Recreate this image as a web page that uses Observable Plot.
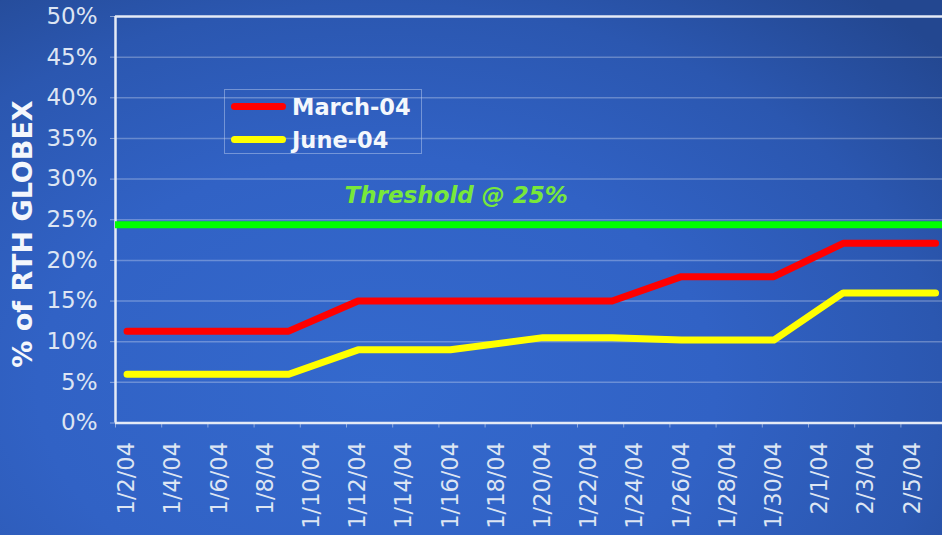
<!DOCTYPE html>
<html>
<head>
<meta charset="utf-8">
<script src="https://cdn.jsdelivr.net/npm/d3@7"></script>
<script src="https://cdn.jsdelivr.net/npm/@observablehq/plot@0.6"></script>
<style>
  html, body { margin: 0; padding: 0; }
  body {
    width: 942px; height: 535px; overflow: hidden; position: relative;
    background: radial-gradient(ellipse 80% 95% at 40% 72%, #3469cd 0%, #3162c5 45%, #2b57b0 75%, #234790 100%);
    font-family: "DejaVu Sans", Verdana, sans-serif;
  }
  #chart { position: absolute; left: 0; top: 0; }
  #ytitle {
    position: absolute; left: 22px; top: 234px;
    transform: translate(-50%, -50%) rotate(-90deg);
    white-space: nowrap; color: #f4f7fc; font-weight: bold; font-size: 27px;
  }
  #legend {
    position: absolute; left: 224px; top: 89px; width: 198px; height: 65px;
    border: 1px solid rgba(200, 215, 245, 0.45); box-sizing: border-box;
  }
  .row { display: flex; align-items: center; height: 33px; padding-left: 6px; }
  .sw { width: 55px; height: 7px; border-radius: 4px; margin-right: 6px; }
  .lb { color: #f4f7fc; font-weight: bold; font-size: 22.5px; }
</style>
</head>
<body>
<div id="chart"></div>
<div id="ytitle">% of RTH GLOBEX</div>
<div id="legend"></div>
<script>
// ---- data ----
const dates = ["1/2/04","1/5/04","1/6/04","1/7/04","1/8/04","1/9/04",
  "1/12/04","1/13/04","1/14/04","1/15/04","1/16/04",
  "1/20/04","1/21/04","1/22/04","1/23/04",
  "1/26/04","1/27/04","1/28/04","1/29/04","1/30/04",
  "2/2/04","2/3/04","2/4/04","2/5/04","2/6/04"];
const march04 = [11.3,11.3,11.3,11.3,11.3,11.3,
  15.0,15.0,15.0,15.0,15.0,
  15.0,15.0,15.0,15.0,
  18.0,18.0,18.0,18.0,18.0,
  22.1,22.1,22.1,22.1,22.1];
const june04 = [6.0,6.0,6.0,6.0,6.0,6.0,
  9.0,9.0,9.0,9.0,9.0,
  10.5,10.5,10.5,10.5,
  10.2,10.2,10.2,10.2,10.2,
  16.0,16.0,16.0,16.0,16.0];
const seriesNames = ["March-04", "June-04"];
const seriesColors = ["#ff0000", "#ffff00"];
const threshold = 24.4;
const thresholdLabel = "Threshold @ 25%";
const thresholdLabelAt = "1/16/04";
const xTickLabels = ["1/2/04","1/4/04","1/6/04","1/8/04","1/10/04","1/12/04","1/14/04","1/16/04","1/18/04",
  "1/20/04","1/22/04","1/24/04","1/26/04","1/28/04","1/30/04","2/1/04","2/3/04","2/5/04"];
const xDomain = ["1/2/04", "2/7/04"];
const yTicks = [0,5,10,15,20,25,30,35,40,45,50];

// ---- helpers ----
function parse(s, hour) {
  const [m, d, y] = s.split("/").map(Number);
  return new Date(Date.UTC(2000 + y, m - 1, d, hour));
}
const rows = [];
dates.forEach((d, i) => {
  rows.push({date: parse(d, 12), value: march04[i], series: seriesNames[0]});
});
dates.forEach((d, i) => {
  rows.push({date: parse(d, 12), value: june04[i], series: seriesNames[1]});
});
const labelRows = xTickLabels.map(s => ({date: parse(s, 12), text: s}));
const tickBounds = xTickLabels.map(s => parse(s, 0));
const lblTime = parse(thresholdLabelAt, 18);

const textColor = "#dde5f3";
const lineColor = "#e4eaf6";

const chart = Plot.plot({
  width: 942,
  height: 535,
  marginLeft: 115,
  marginRight: 0,
  marginTop: 16,
  marginBottom: 112.5,
  style: {background: "transparent", color: textColor, fontFamily: "'DejaVu Sans', Verdana, sans-serif", overflow: "hidden"},
  x: {type: "utc", domain: xDomain.map(s => parse(s, 0)), range: [115, 946.6]},
  y: {domain: [0, 50], range: [422.5, 16]},
  color: {domain: seriesNames, range: seriesColors},
  marks: [
    Plot.gridY(yTicks.filter(t => t > 0 && t < 50), {stroke: "#ffffff", strokeOpacity: 0.28, strokeWidth: 1.5}),
    Plot.axisY({ticks: yTicks, tickFormat: d => d + "%", tickSize: 5, tickPadding: 13, fontSize: 23, label: null, stroke: "#c9d5ec", strokeOpacity: 0.6, fill: textColor}),
    Plot.axisX({ticks: tickBounds, tickFormat: () => "", tickSize: 5, label: null, stroke: "#c9d5ec", strokeOpacity: 0.6}),
    Plot.text(labelRows, {x: "date", y: () => 0, text: "text", rotate: -90, textAnchor: "end", lineAnchor: "middle", dy: 19, fontSize: 22.5, fill: textColor}),
    Plot.ruleY([0, 50], {stroke: lineColor, strokeWidth: 2.5}),
    Plot.ruleX([parse(xDomain[0], 0)], {stroke: lineColor, strokeWidth: 2.5}),
    Plot.ruleY([threshold], {stroke: "#00ff00", strokeWidth: 7}),
    Plot.text([threshold], {y: d => d, x: () => lblTime, text: () => thresholdLabel, dy: -29, fontSize: 23, fontWeight: "bold", fontStyle: "italic", fill: "#78e83a"}),
    Plot.line(rows, {x: "date", y: "value", z: "series", stroke: "series", strokeWidth: 7, strokeLinecap: "round", strokeLinejoin: "round"})
  ]
});
document.getElementById("chart").appendChild(chart);

// legend
const legend = document.getElementById("legend");
seriesNames.forEach((name, i) => {
  const row = document.createElement("div");
  row.className = "row";
  const sw = document.createElement("div");
  sw.className = "sw";
  sw.style.background = seriesColors[i];
  const lb = document.createElement("span");
  lb.className = "lb";
  lb.textContent = name;
  row.appendChild(sw); row.appendChild(lb);
  legend.appendChild(row);
});
</script>
</body>
</html>
